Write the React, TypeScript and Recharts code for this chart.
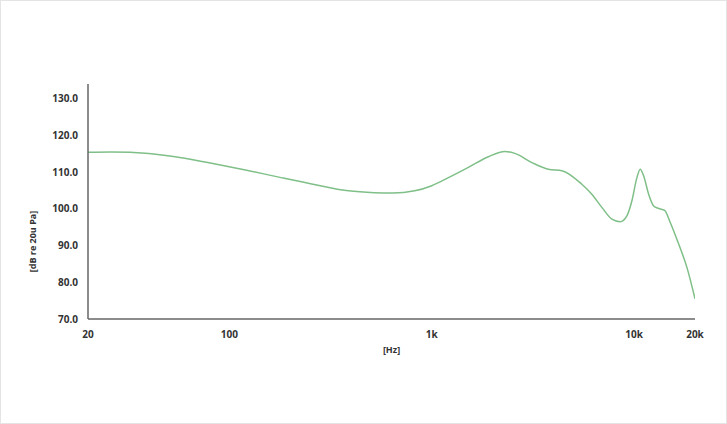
import { LineChart, Line, XAxis, YAxis, Label } from 'recharts';

// frequency response
const freqs = [
  20, 26, 40, 60, 84, 120, 180, 270, 388, 520, 640, 824, 1000, 1209, 1517, 1906,
  2296, 2574, 3125, 3767, 4400, 5516, 6181, 6930, 7763, 8538, 9214, 9754, 10326,
  10722, 11145, 11799, 12491, 13224, 14158, 15090, 16612, 18256, 20000,
];
const spl = [
  115.4, 115.5, 115.1, 113.8, 112.3, 110.6, 108.5, 106.5, 104.9, 104.4, 104.3, 104.9,
  106.3, 108.5, 111.3, 114.2, 115.6, 115.1, 112.6, 110.8, 110.4, 106.7, 104.0, 100.4,
  97.2, 96.5, 98.1, 102.2, 108.5, 110.8, 109.0, 104.0, 100.8, 100.1, 99.6, 96.3, 90.4,
  84.0, 75.5,
];

const xTicks = [20, 100, 1000, 10000, 20000];
const yTicks = [70, 80, 90, 100, 110, 120, 130];

const data = freqs.map((f, i) => ({ f, db: spl[i] }));

const fmtHz = (v: number) => (v >= 1000 ? `${v / 1000}k` : `${v}`);

const tickStyle = {
  fill: '#333',
  fontSize: 10,
  fontWeight: 700,
  fontFamily: '"Open Sans", sans-serif',
};

export default function App() {
  return (
    <div
      style={{
        position: 'absolute',
        left: 0,
        top: 0,
        width: 727,
        height: 424,
        background: '#fff',
        boxSizing: 'border-box',
        border: '1px solid #e4e4e4',
      }}
    >
      <LineChart
        width={727}
        height={424}
        data={data}
        margin={{ top: 83, right: 33, bottom: 76, left: 0 }}
      >
        <XAxis
          dataKey="f"
          type="number"
          scale="log"
          domain={[20, 20000]}
          ticks={xTicks}
          tickFormatter={fmtHz}
          allowDataOverflow
          height={30}
          tickLine={false}
          tickMargin={6}
          axisLine={{ stroke: '#666', strokeWidth: 1.5 }}
          tick={tickStyle}
        >
          <Label
            value="[Hz]"
            position="insideBottom"
            offset={-4}
            style={{ ...tickStyle, fontSize: 9 }}
          />
        </XAxis>
        <YAxis
          type="number"
          domain={[70, 134]}
          ticks={yTicks}
          tickFormatter={(v: number) => v.toFixed(1)}
          allowDataOverflow
          width={87}
          tickLine={false}
          tickMargin={4}
          axisLine={{ stroke: '#666', strokeWidth: 1.5 }}
          tick={tickStyle}
        >
          <Label
            value="[dB re 20u Pa]"
            angle={-90}
            position="insideLeft"
            offset={32}
            dy={40}
            style={{ ...tickStyle, fontSize: 9, textAnchor: 'middle' }}
          />
        </YAxis>
        <Line
          type="monotone"
          dataKey="db"
          stroke="#7fbf88"
          strokeWidth={1.5}
          dot={false}
          isAnimationActive={false}
        />
      </LineChart>
    </div>
  );
}
